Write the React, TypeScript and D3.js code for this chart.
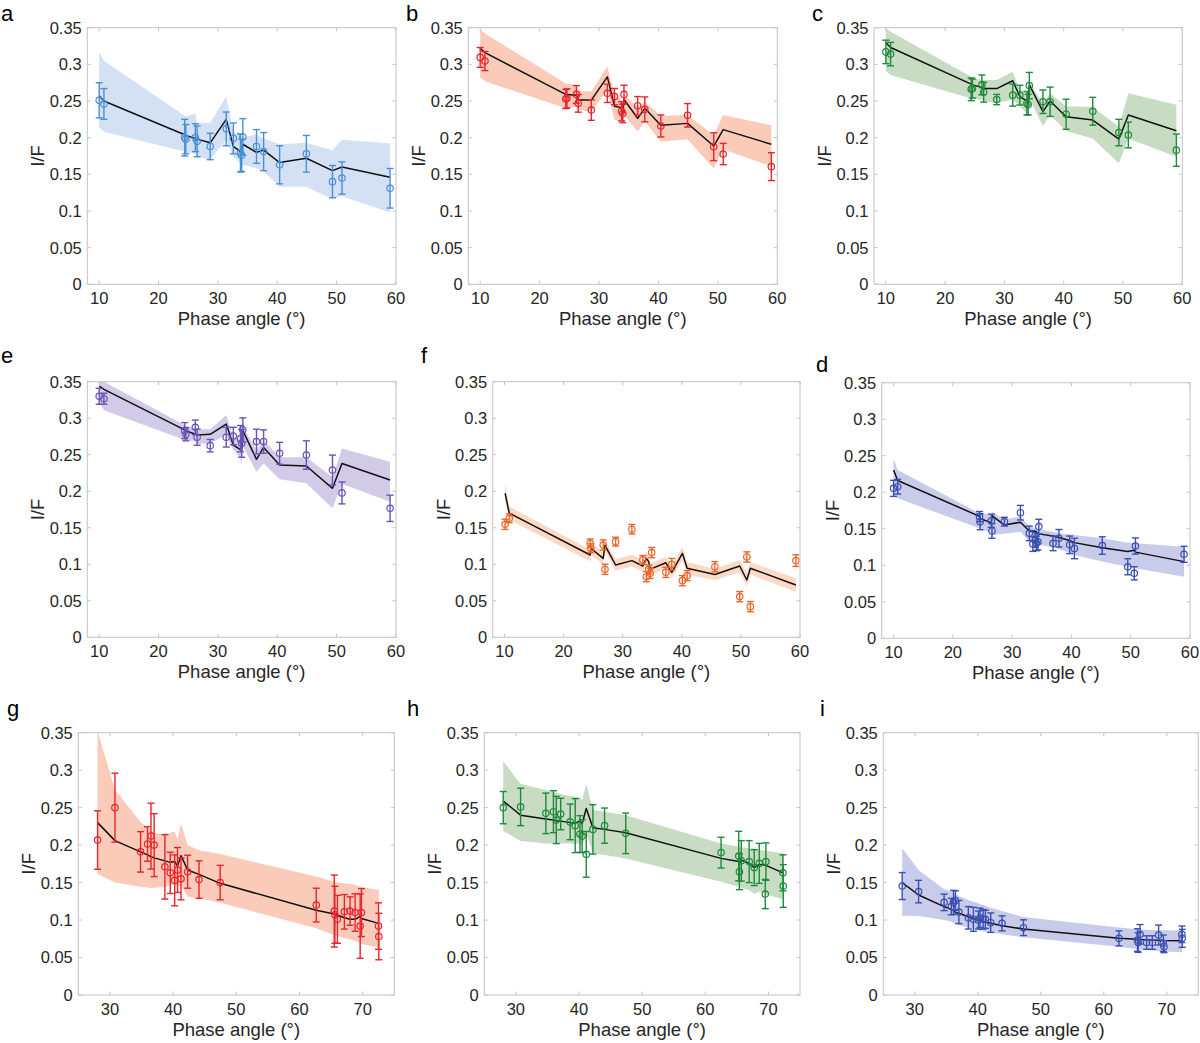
import * as d3 from 'd3';

// y axis is shared by all nine panels
const yTicks = [0, 0.05, 0.1, 0.15, 0.2, 0.25, 0.3, 0.35];
const xTicksTop = [10, 20, 30, 40, 50, 60];
const xTicksBottom = [30, 40, 50, 60, 70];

// phase angles (deg) for panels a, b, c, e
const phaseABCE = [10.0, 10.8, 24.4, 24.6, 26.2, 26.5, 28.7, 31.4, 32.6, 33.8, 34.0, 34.2, 36.5, 37.7, 40.4, 44.9, 49.3, 50.9, 59.0];

const obsA = [0.251, 0.246, 0.200, 0.198, 0.200, 0.195, 0.188, 0.212, 0.199, 0.179, 0.176, 0.201, 0.188, 0.181, 0.163, 0.178, 0.140, 0.145, 0.131];
const errA = [0.024, 0.021, 0.025, 0.020, 0.019, 0.021, 0.018, 0.023, 0.021, 0.026, 0.022, 0.025, 0.023, 0.026, 0.026, 0.025, 0.022, 0.022, 0.027];
const modelA = [0.257, 0.250, 0.204, 0.203, 0.199, 0.198, 0.193, 0.225, 0.188, 0.181, 0.180, 0.191, 0.180, 0.183, 0.166, 0.172, 0.155, 0.160, 0.146];
const highA = [0.317, 0.305, 0.230, 0.229, 0.233, 0.220, 0.220, 0.256, 0.208, 0.206, 0.200, 0.201, 0.204, 0.199, 0.191, 0.193, 0.183, 0.197, 0.192];
const lowA = [0.214, 0.208, 0.181, 0.180, 0.178, 0.174, 0.170, 0.197, 0.174, 0.165, 0.154, 0.163, 0.158, 0.154, 0.133, 0.133, 0.116, 0.120, 0.098];

const obsB = [0.3095, 0.3045, 0.2527, 0.2536, 0.259, 0.2468, 0.2377, 0.2605, 0.256, 0.236, 0.233, 0.259, 0.2436, 0.2386, 0.216, 0.2305, 0.1877, 0.1777, 0.1605];
const errB = [0.0135, 0.013, 0.013, 0.013, 0.012, 0.012, 0.014, 0.0125, 0.011, 0.013, 0.0125, 0.0125, 0.0125, 0.017, 0.015, 0.016, 0.019, 0.0145, 0.019];
const modelB = [0.322, 0.316, 0.259, 0.259, 0.258, 0.2513, 0.2513, 0.283, 0.243, 0.241, 0.233, 0.252, 0.2264, 0.240, 0.217, 0.2195, 0.1886, 0.211, 0.191];
const highB = [0.348, 0.342, 0.274, 0.274, 0.272, 0.264, 0.263, 0.297, 0.2605, 0.251, 0.2445, 0.259, 0.242, 0.249, 0.2295, 0.231, 0.2036, 0.231, 0.217];
const lowB = [0.282, 0.277, 0.240, 0.240, 0.242, 0.2377, 0.2355, 0.265, 0.224, 0.222, 0.2205, 0.231, 0.208, 0.222, 0.1945, 0.198, 0.158, 0.184, 0.161];

const obsC = [0.317, 0.314, 0.266, 0.267, 0.272, 0.262, 0.252, 0.258, 0.258, 0.247, 0.245, 0.271, 0.249, 0.249, 0.232, 0.236, 0.207, 0.2036, 0.183];
const errC = [0.016, 0.016, 0.0155, 0.013, 0.0135, 0.0135, 0.007, 0.015, 0.0135, 0.016, 0.014, 0.018, 0.016, 0.020, 0.0205, 0.019, 0.018, 0.0175, 0.022];
const modelC = [0.3295, 0.323, 0.273, 0.272, 0.2686, 0.267, 0.267, 0.2777, 0.256, 0.250, 0.246, 0.272, 0.2355, 0.250, 0.2286, 0.224, 0.198, 0.231, 0.2095];
const highC = [0.349, 0.3445, 0.283, 0.282, 0.2786, 0.2786, 0.2786, 0.290, 0.265, 0.263, 0.256, 0.276, 0.247, 0.2605, 0.243, 0.242, 0.215, 0.2605, 0.245];
const lowC = [0.291, 0.2855, 0.2536, 0.253, 0.251, 0.250, 0.247, 0.252, 0.243, 0.233, 0.2295, 0.2536, 0.216, 0.231, 0.209, 0.199, 0.165, 0.199, 0.174];

const obsE = [0.330, 0.3267, 0.283, 0.278, 0.2875, 0.274, 0.2624, 0.274, 0.2756, 0.272, 0.2656, 0.284, 0.268, 0.268, 0.252, 0.2496, 0.229, 0.1977, 0.1766];
const errE = [0.011, 0.0075, 0.011, 0.009, 0.010, 0.011, 0.0085, 0.0135, 0.012, 0.018, 0.019, 0.0165, 0.017, 0.016, 0.015, 0.0195, 0.0205, 0.015, 0.018];
const modelE = [0.344, 0.3395, 0.284, 0.283, 0.278, 0.277, 0.278, 0.292, 0.263, 0.257, 0.254, 0.283, 0.2437, 0.260, 0.236, 0.2345, 0.204, 0.238, 0.2154];
const highE = [0.352, 0.350, 0.2906, 0.290, 0.286, 0.285, 0.285, 0.304, 0.2747, 0.270, 0.2656, 0.289, 0.2564, 0.270, 0.2464, 0.2464, 0.219, 0.2587, 0.2405];
const lowE = [0.3226, 0.311, 0.270, 0.270, 0.268, 0.2647, 0.2656, 0.277, 0.2564, 0.245, 0.237, 0.261, 0.2268, 0.238, 0.2163, 0.211, 0.1766, 0.210, 0.1857];

// panel f
const phaseF = [10.1, 10.8, 24.5, 24.6, 26.7, 27.0, 28.8, 31.55, 33.4, 34.0, 34.4, 34.65, 34.9, 37.3, 38.3, 40.1, 40.9, 45.6, 49.8, 51.0, 51.6, 59.3];
const obsF = [0.1547, 0.163, 0.1287, 0.122, 0.1264, 0.0931, 0.131, 0.148, 0.106, 0.083, 0.093, 0.0876, 0.116, 0.089, 0.100, 0.0776, 0.0844, 0.0967, 0.0557, 0.110, 0.042, 0.105];
const errF = [0.007, 0.006, 0.006, 0.006, 0.007, 0.007, 0.006, 0.0065, 0.006, 0.007, 0.006, 0.007, 0.007, 0.007, 0.008, 0.007, 0.007, 0.007, 0.007, 0.007, 0.007, 0.008];
const modelF = [0.197, 0.170, 0.1127, 0.122, 0.108, 0.126, 0.099, 0.105, 0.0976, 0.108, 0.1036, 0.093, 0.094, 0.102, 0.089, 0.115, 0.0945, 0.086, 0.0976, 0.0785, 0.0945, 0.0716];
const highF = [0.211, 0.179, 0.120, 0.130, 0.116, 0.134, 0.107, 0.113, 0.106, 0.117, 0.112, 0.101, 0.102, 0.110, 0.098, 0.124, 0.103, 0.094, 0.106, 0.088, 0.103, 0.081];
const lowF = [0.188, 0.161, 0.104, 0.113, 0.100, 0.118, 0.091, 0.097, 0.090, 0.100, 0.096, 0.085, 0.086, 0.094, 0.081, 0.106, 0.086, 0.078, 0.089, 0.070, 0.086, 0.062];

// panel d
const phaseD = [10.0, 10.7, 24.5, 24.6, 26.5, 26.6, 28.7, 31.4, 32.9, 33.5, 33.9, 34.1, 34.35, 34.5, 36.9, 37.9, 39.7, 40.5, 45.2, 49.5, 50.6, 50.8, 59.0];
const obsD = [0.2053, 0.2076, 0.1666, 0.1597, 0.161, 0.147, 0.1597, 0.172, 0.1437, 0.129, 0.1346, 0.130, 0.132, 0.153, 0.130, 0.137, 0.128, 0.123, 0.127, 0.098, 0.089, 0.1264, 0.115];
const errD = [0.011, 0.010, 0.007, 0.011, 0.009, 0.010, 0.006, 0.010, 0.010, 0.010, 0.010, 0.010, 0.011, 0.010, 0.010, 0.012, 0.012, 0.014, 0.012, 0.011, 0.009, 0.011, 0.011];
const modelD = [0.2304, 0.216, 0.167, 0.164, 0.158, 0.168, 0.155, 0.159, 0.147, 0.147, 0.1465, 0.146, 0.1435, 0.143, 0.140, 0.138, 0.134, 0.131, 0.124, 0.119, 0.1205, 0.118, 0.105];
const highD = [0.2464, 0.2304, 0.171, 0.171, 0.170, 0.1734, 0.163, 0.1666, 0.153, 0.152, 0.151, 0.150, 0.149, 0.149, 0.146, 0.144, 0.142, 0.1415, 0.137, 0.131, 0.131, 0.130, 0.1255];
const lowD = [0.196, 0.1917, 0.1506, 0.150, 0.1437, 0.1415, 0.143, 0.146, 0.1323, 0.131, 0.130, 0.129, 0.128, 0.128, 0.1246, 0.122, 0.117, 0.114, 0.105, 0.098, 0.0965, 0.0958, 0.0844];

// panel g
const phaseG = [28.05, 30.8, 34.85, 35.95, 36.5, 37.0, 38.7, 39.55, 40.25, 40.7, 41.25, 42.3, 44.1, 47.45, 62.65, 65.5, 65.6, 66.0, 67.1, 68.0, 68.8, 69.6, 69.8, 72.5, 72.55];
const obsG = [0.2068, 0.250, 0.191, 0.2015, 0.212, 0.200, 0.171, 0.163, 0.153, 0.1668, 0.155, 0.1645, 0.154, 0.150, 0.120, 0.112, 0.107, 0.101, 0.111, 0.112, 0.110, 0.092, 0.110, 0.092, 0.078];
const errG = [0.039, 0.046, 0.027, 0.023, 0.044, 0.042, 0.043, 0.0275, 0.034, 0.030, 0.028, 0.022, 0.025, 0.023, 0.0225, 0.048, 0.038, 0.032, 0.023, 0.019, 0.025, 0.043, 0.032, 0.031, 0.031];
const modelG = [0.230, 0.206, 0.191, 0.187, 0.1845, 0.183, 0.179, 0.177, 0.178, 0.172, 0.186, 0.1668, 0.161, 0.149, 0.113, 0.108, 0.1075, 0.1067, 0.103, 0.101, 0.101, 0.105, 0.102, 0.0956, 0.0955];
const highG = [0.352, 0.274, 0.231, 0.2237, 0.220, 0.2157, 0.2148, 0.2166, 0.218, 0.207, 0.229, 0.200, 0.193, 0.188, 0.158, 0.151, 0.1505, 0.150, 0.149, 0.148, 0.147, 0.1445, 0.144, 0.140, 0.140];
const lowG = [0.1614, 0.150, 0.1445, 0.1436, 0.1423, 0.143, 0.144, 0.1467, 0.1467, 0.145, 0.146, 0.131, 0.129, 0.123, 0.089, 0.080, 0.0795, 0.079, 0.0756, 0.0745, 0.072, 0.069, 0.068, 0.0636, 0.0635];

// panel h
const phaseH = [28.0, 30.75, 34.75, 35.95, 36.4, 37.1, 38.6, 39.4, 40.15, 40.5, 41.15, 42.2, 44.05, 47.4, 62.5, 65.3, 65.4, 65.7, 66.95, 67.75, 68.55, 69.5, 69.6, 72.3, 72.35];
const obsH = [0.250, 0.251, 0.2424, 0.2446, 0.2335, 0.2415, 0.231, 0.226, 0.2148, 0.212, 0.1877, 0.221, 0.226, 0.2157, 0.190, 0.1854, 0.1645, 0.179, 0.178, 0.170, 0.1756, 0.1347, 0.178, 0.163, 0.1454];
const errH = [0.0215, 0.025, 0.027, 0.028, 0.0315, 0.021, 0.0238, 0.036, 0.0245, 0.022, 0.0305, 0.033, 0.0235, 0.027, 0.0205, 0.033, 0.024, 0.027, 0.028, 0.024, 0.0267, 0.0195, 0.025, 0.024, 0.0285];
const modelH = [0.2588, 0.240, 0.2348, 0.2335, 0.2326, 0.232, 0.230, 0.2295, 0.232, 0.2286, 0.249, 0.2232, 0.221, 0.2166, 0.1823, 0.178, 0.1757, 0.180, 0.1757, 0.170, 0.1743, 0.1734, 0.173, 0.163, 0.163];
const highH = [0.312, 0.2815, 0.2735, 0.271, 0.270, 0.268, 0.2655, 0.2646, 0.264, 0.260, 0.2815, 0.2468, 0.2446, 0.240, 0.2023, 0.198, 0.1975, 0.197, 0.1957, 0.195, 0.1934, 0.193, 0.1925, 0.189, 0.189];
const lowH = [0.219, 0.2055, 0.2023, 0.202, 0.202, 0.202, 0.202, 0.2015, 0.202, 0.199, 0.2157, 0.189, 0.1868, 0.1823, 0.151, 0.1445, 0.144, 0.1425, 0.140, 0.1347, 0.138, 0.135, 0.134, 0.1276, 0.1275];

// panel i
const phaseI = [28.0, 30.6, 34.65, 35.8, 36.15, 36.45, 37.0, 38.5, 39.3, 40.1, 40.35, 40.85, 41.2, 42.05, 43.85, 47.25, 62.4, 65.35, 65.45, 65.75, 66.8, 67.7, 68.7, 69.45, 69.55, 72.4, 72.45];
const obsI = [0.1454, 0.138, 0.1236, 0.118, 0.1236, 0.126, 0.1107, 0.103, 0.101, 0.100, 0.103, 0.101, 0.101, 0.0965, 0.0956, 0.0898, 0.0756, 0.0734, 0.070, 0.081, 0.070, 0.070, 0.080, 0.069, 0.0645, 0.081, 0.0756];
const errI = [0.018, 0.015, 0.011, 0.011, 0.016, 0.013, 0.0155, 0.015, 0.016, 0.012, 0.013, 0.013, 0.012, 0.013, 0.010, 0.0105, 0.010, 0.015, 0.013, 0.013, 0.009, 0.009, 0.0133, 0.011, 0.008, 0.011, 0.012];
const modelI = [0.150, 0.1334, 0.118, 0.1143, 0.113, 0.110, 0.109, 0.1045, 0.102, 0.100, 0.099, 0.098, 0.097, 0.0956, 0.0925, 0.088, 0.0756, 0.0743, 0.0742, 0.074, 0.0738, 0.0734, 0.0732, 0.0729, 0.0728, 0.0725, 0.0725];
const highI = [0.1957, 0.1668, 0.141, 0.138, 0.1356, 0.135, 0.132, 0.1267, 0.1245, 0.1223, 0.121, 0.120, 0.119, 0.1165, 0.112, 0.104, 0.090, 0.0876, 0.0875, 0.0873, 0.087, 0.0868, 0.0867, 0.0865, 0.0865, 0.086, 0.086];
const lowI = [0.1058, 0.1054, 0.100, 0.098, 0.0956, 0.095, 0.0934, 0.0898, 0.0878, 0.086, 0.0855, 0.085, 0.084, 0.083, 0.081, 0.077, 0.0645, 0.061, 0.061, 0.0605, 0.060, 0.0595, 0.0587, 0.058, 0.058, 0.057, 0.057];

interface PanelSpec {
  label: string;
  left: number;
  right: number;
  top: number;
  bottom: number;
  labelX: number;
  labelY: number;
  xDomain: [number, number];
  xTicks: number[];
  phase: number[];
  obs: number[];
  err: number[];
  model: number[];
  low: number[];
  high: number[];
  color: string;
  band: string;
}

const TEXT = '#262626';
const AXIS = '#c4c4c4';
const FONT = '"Liberation Sans", Arial, Helvetica, sans-serif';

const panels: PanelSpec[] = [
  { label: 'a', left: 87.3, right: 396, top: 27.7, bottom: 284.3, labelX: 1, labelY: 21, xDomain: [8, 60], xTicks: xTicksTop,
    phase: phaseABCE, obs: obsA, err: errA, model: modelA, low: lowA, high: highA, color: '#4a8fd6', band: '#d4e1f5' },
  { label: 'b', left: 468.3, right: 777.3, top: 27.7, bottom: 284.3, labelX: 406, labelY: 21, xDomain: [8, 60], xTicks: xTicksTop,
    phase: phaseABCE, obs: obsB, err: errB, model: modelB, low: lowB, high: highB, color: '#e8232a', band: '#fbcbb9' },
  { label: 'c', left: 874, right: 1182.3, top: 27.7, bottom: 284.3, labelX: 812, labelY: 21, xDomain: [8, 60], xTicks: xTicksTop,
    phase: phaseABCE, obs: obsC, err: errC, model: modelC, low: lowC, high: highC, color: '#1d8a3c', band: '#c7dcc2' },
  { label: 'e', left: 87.3, right: 396, top: 381.7, bottom: 637.3, labelX: 1, labelY: 363, xDomain: [8, 60], xTicks: xTicksTop,
    phase: phaseABCE, obs: obsE, err: errE, model: modelE, low: lowE, high: highE, color: '#6a52b6', band: '#d2cbe8' },
  { label: 'f', left: 492.7, right: 800, top: 381.7, bottom: 637.3, labelX: 421, labelY: 363, xDomain: [8, 60], xTicks: xTicksTop,
    phase: phaseF, obs: obsF, err: errF, model: modelF, low: lowF, high: highF, color: '#e8672a', band: '#fcd9c5' },
  { label: 'd', left: 881.7, right: 1190, top: 382.7, bottom: 638.3, labelX: 816, labelY: 372, xDomain: [8, 60], xTicks: xTicksTop,
    phase: phaseD, obs: obsD, err: errD, model: modelD, low: lowD, high: highD, color: '#3a50b0', band: '#c9cbea' },
  { label: 'g', left: 78.3, right: 394.3, top: 732.7, bottom: 995, labelX: 7, labelY: 716, xDomain: [25, 75], xTicks: xTicksBottom,
    phase: phaseG, obs: obsG, err: errG, model: modelG, low: lowG, high: highG, color: '#e8232a', band: '#fbcbb9' },
  { label: 'h', left: 484.3, right: 800, top: 732.7, bottom: 995, labelX: 407, labelY: 716, xDomain: [25, 75], xTicks: xTicksBottom,
    phase: phaseH, obs: obsH, err: errH, model: modelH, low: lowH, high: highH, color: '#1d8a3c', band: '#c7dcc2' },
  { label: 'i', left: 883.3, right: 1198.3, top: 732.7, bottom: 995, labelX: 820, labelY: 716, xDomain: [25, 75], xTicks: xTicksBottom,
    phase: phaseI, obs: obsI, err: errI, model: modelI, low: lowI, high: highI, color: '#3a50b0', band: '#c9cbea' },
];

function Panel({ p }: { p: PanelSpec }) {
  const x = d3.scaleLinear().domain(p.xDomain).range([p.left, p.right]);
  const y = d3.scaleLinear().domain([0, 0.35]).range([p.bottom, p.top]);
  const idx = d3.range(p.phase.length);

  const area = d3.area<number>()
    .x(i => x(p.phase[i]))
    .y0(i => y(p.low[i]))
    .y1(i => y(p.high[i]));
  const line = d3.line<number>()
    .x(i => x(p.phase[i]))
    .y(i => y(p.model[i]));

  const clipId = `clip-${p.label}`;
  const tick = 3.5;
  const cap = 3.5;

  return (
    <g>
      <defs>
        <clipPath id={clipId}>
          <rect x={p.left} y={p.top} width={p.right - p.left} height={p.bottom - p.top} />
        </clipPath>
      </defs>

      <text x={p.labelX} y={p.labelY} fontSize={22} fill="#000">{p.label}</text>

      <g clipPath={`url(#${clipId})`}>
        <path d={area(idx) ?? ''} fill={p.band} stroke="none" />
        <path d={line(idx) ?? ''} fill="none" stroke="#111" strokeWidth={1.5} strokeLinejoin="round" />
      </g>

      {/* error bars + open circles */}
      {idx.map(i => {
        const cx = x(p.phase[i]);
        const y1 = y(p.obs[i] + p.err[i]);
        const y0 = y(p.obs[i] - p.err[i]);
        return (
          <g key={i} stroke={p.color} strokeWidth={1.4} fill="none">
            <line x1={cx} x2={cx} y1={y1} y2={y0} />
            <line x1={cx - cap} x2={cx + cap} y1={y1} y2={y1} />
            <line x1={cx - cap} x2={cx + cap} y1={y0} y2={y0} />
            <circle cx={cx} cy={y(p.obs[i])} r={3.2} strokeWidth={1.2} />
          </g>
        );
      })}

      {/* box */}
      <rect x={p.left} y={p.top} width={p.right - p.left} height={p.bottom - p.top} fill="none" stroke={AXIS} strokeWidth={1} />

      {/* y ticks */}
      {yTicks.map(t => (
        <g key={`y${t}`}>
          <line x1={p.left} x2={p.left + tick} y1={y(t)} y2={y(t)} stroke={AXIS} />
          <line x1={p.right} x2={p.right - tick} y1={y(t)} y2={y(t)} stroke={AXIS} />
          <text x={p.left - 5.5} y={y(t)} dy="0.36em" textAnchor="end" fontSize={16.5} fill={TEXT}>{String(t)}</text>
        </g>
      ))}

      {/* x ticks */}
      {p.xTicks.map(t => (
        <g key={`x${t}`}>
          <line x1={x(t)} x2={x(t)} y1={p.bottom} y2={p.bottom - tick} stroke={AXIS} />
          <line x1={x(t)} x2={x(t)} y1={p.top} y2={p.top + tick} stroke={AXIS} />
          <text x={x(t)} y={p.bottom + 20} textAnchor="middle" fontSize={16.5} fill={TEXT}>{t}</text>
        </g>
      ))}

      <text x={(p.left + p.right) / 2} y={p.bottom + 41} textAnchor="middle" fontSize={18.5} fill={TEXT}>
        Phase angle (°)
      </text>
      <text
        transform={`translate(${p.left - 43},${(p.top + p.bottom) / 2}) rotate(-90)`}
        textAnchor="middle"
        fontSize={18.5}
        fill={TEXT}
      >
        I/F
      </text>
    </g>
  );
}

export default function App() {
  return (
    <div style={{ position: 'absolute', left: 0, top: 0 }}>
      <svg width={1200} height={1043} style={{ display: 'block', background: '#fff', fontFamily: FONT }}>
        {panels.map(p => <Panel key={p.label} p={p} />)}
      </svg>
    </div>
  );
}
